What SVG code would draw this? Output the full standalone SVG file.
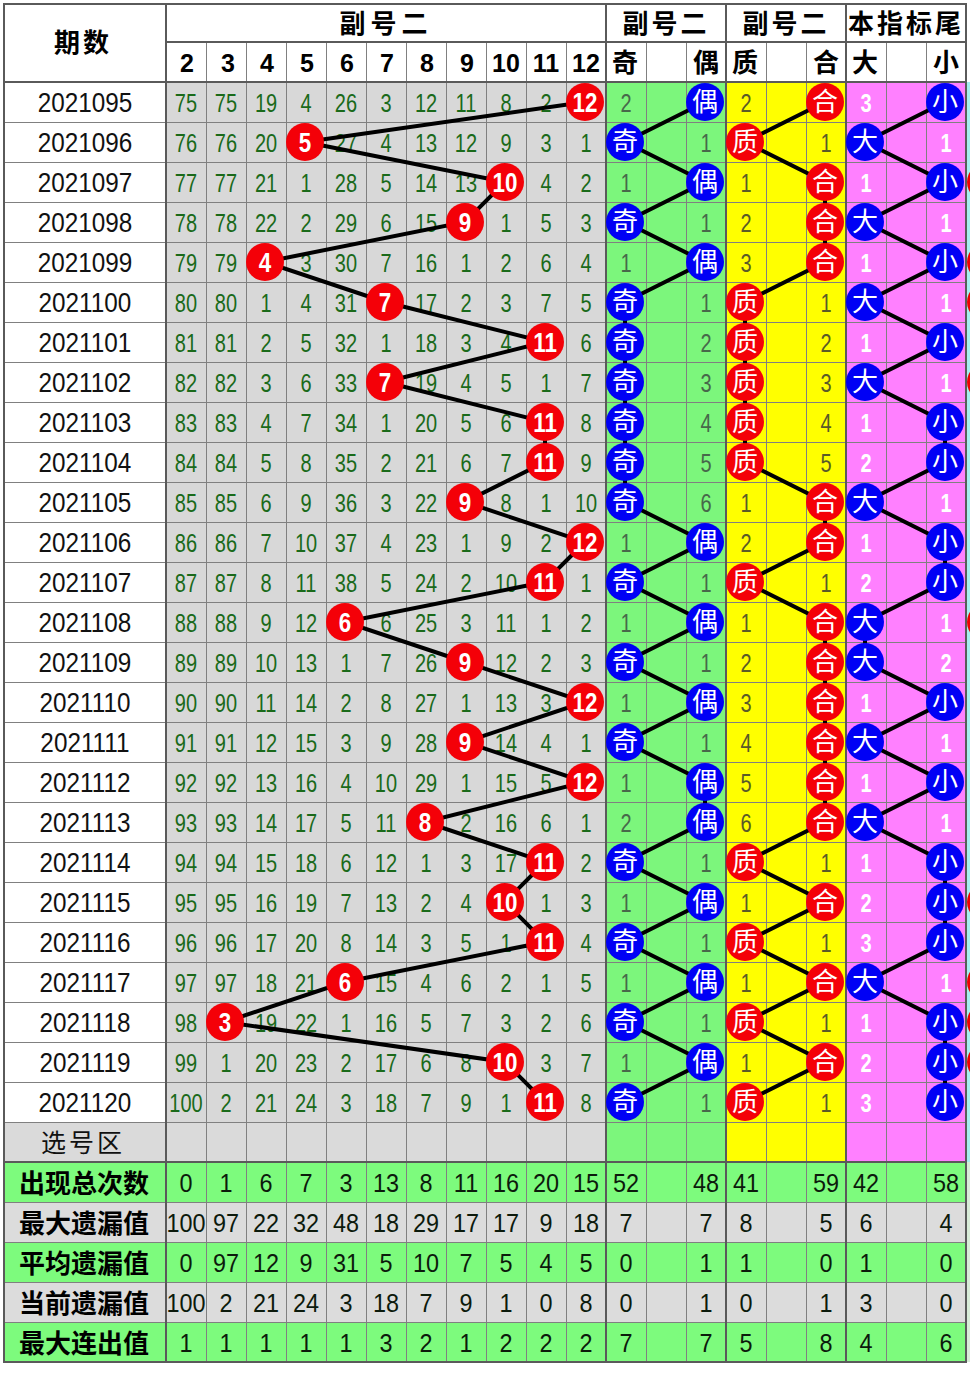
<svg xmlns="http://www.w3.org/2000/svg" width="970" height="1396" viewBox="0 0 970 1396">
<style>
text{text-anchor:middle;font-family:"Liberation Sans",Arial,sans-serif}
.cjk,.cjk text,.node-cjk text{font-family:"Noto Sans CJK SC","Noto Sans CJK JP",sans-serif}
.hd{font-size:26px;font-weight:700;fill:#000}
.hn{font-size:25px;font-weight:700;fill:#000;font-family:"Liberation Sans",sans-serif}
.date{font-size:27px;fill:#111}
.grid text{font-size:25px;fill:#1a6a1a}
.gp text{font-size:25px;fill:#47684a}
.yp text{font-size:25px;fill:#5a5a28}
.pp text{font-size:25px;font-weight:700;fill:#fff}
.stat text{font-size:26px;fill:#0c1a0c}
.lab{font-size:26px;font-weight:700;fill:#000}
.thin{fill:none;stroke:#808080;stroke-width:1}
.major{fill:none;stroke:#5a5a5a;stroke-width:2}
.conn polyline{fill:none;stroke:#000;stroke-width:4}
.r circle{fill:#f40008}
.b circle{fill:#0000f5}
.num text{font-size:28px;font-weight:700;fill:#fff;transform:scale(.8,1)}
.glyph text{font-size:26px;fill:#fff;font-family:"Noto Sans CJK SC",sans-serif}
</style>

<rect width="970" height="1396" fill="#fff"/>
<g id="fills">
<rect x="4" y="1122" width="602" height="40" fill="#dadada"/>
<rect x="166" y="82" width="440" height="1040" fill="#d8d8d8"/>
<rect x="606" y="82" width="120" height="1080" fill="#7cf67c"/>
<rect x="726" y="82" width="120" height="1080" fill="#ffff00"/>
<rect x="846" y="82" width="120" height="1080" fill="#ff80ff"/>
<rect x="967" y="82" width="3" height="1080" fill="#a4f0f0"/>
<rect x="4" y="1162" width="962" height="40" fill="#7dfb7d"/>
<rect x="4" y="1202" width="962" height="40" fill="#dcdcdc"/>
<rect x="4" y="1242" width="962" height="40" fill="#7dfb7d"/>
<rect x="4" y="1282" width="962" height="40" fill="#dcdcdc"/>
<rect x="4" y="1322" width="962" height="40" fill="#7dfb7d"/>
<rect x="967" y="1162" width="3" height="200" fill="#d8ecd8"/>
</g>

<g id="edge" fill="#f00000">
<circle cx="986" cy="182" r="19"/><circle cx="986" cy="262" r="19"/><circle cx="986" cy="302" r="19"/><circle cx="986" cy="382" r="19"/><circle cx="986" cy="622" r="19"/><circle cx="986" cy="902" r="19"/><circle cx="986" cy="982" r="19"/><circle cx="986" cy="1022" r="19"/><circle cx="986" cy="1062" r="19"/>
</g>

<g id="dates" transform="scale(.9 1)" class="date">
<text class="date" x="94.4" y="112">2021095</text><text class="date" x="94.4" y="152">2021096</text><text class="date" x="94.4" y="192">2021097</text><text class="date" x="94.4" y="232">2021098</text><text class="date" x="94.4" y="272">2021099</text><text class="date" x="94.4" y="312">2021100</text><text class="date" x="94.4" y="352">2021101</text><text class="date" x="94.4" y="392">2021102</text><text class="date" x="94.4" y="432">2021103</text><text class="date" x="94.4" y="472">2021104</text><text class="date" x="94.4" y="512">2021105</text><text class="date" x="94.4" y="552">2021106</text><text class="date" x="94.4" y="592">2021107</text><text class="date" x="94.4" y="632">2021108</text><text class="date" x="94.4" y="672">2021109</text><text class="date" x="94.4" y="712">2021110</text><text class="date" x="94.4" y="752">2021111</text><text class="date" x="94.4" y="792">2021112</text><text class="date" x="94.4" y="832">2021113</text><text class="date" x="94.4" y="872">2021114</text><text class="date" x="94.4" y="912">2021115</text><text class="date" x="94.4" y="952">2021116</text><text class="date" x="94.4" y="992">2021117</text><text class="date" x="94.4" y="1032">2021118</text><text class="date" x="94.4" y="1072">2021119</text><text class="date" x="94.4" y="1112">2021120</text>
</g>

<g id="grid-values" class="grid">
<g transform="matrix(.8 0 0 1 0 112)"><text x="232.5">75</text><text x="282.5">75</text><text x="332.5">19</text><text x="382.5">4</text><text x="432.5">26</text><text x="482.5">3</text><text x="532.5">12</text><text x="582.5">11</text><text x="632.5">8</text><text x="682.5">2</text></g>
<g transform="matrix(.8 0 0 1 0 152)"><text x="232.5">76</text><text x="282.5">76</text><text x="332.5">20</text><text x="432.5">27</text><text x="482.5">4</text><text x="532.5">13</text><text x="582.5">12</text><text x="632.5">9</text><text x="682.5">3</text><text x="732.5">1</text></g>
<g transform="matrix(.8 0 0 1 0 192)"><text x="232.5">77</text><text x="282.5">77</text><text x="332.5">21</text><text x="382.5">1</text><text x="432.5">28</text><text x="482.5">5</text><text x="532.5">14</text><text x="582.5">13</text><text x="682.5">4</text><text x="732.5">2</text></g>
<g transform="matrix(.8 0 0 1 0 232)"><text x="232.5">78</text><text x="282.5">78</text><text x="332.5">22</text><text x="382.5">2</text><text x="432.5">29</text><text x="482.5">6</text><text x="532.5">15</text><text x="632.5">1</text><text x="682.5">5</text><text x="732.5">3</text></g>
<g transform="matrix(.8 0 0 1 0 272)"><text x="232.5">79</text><text x="282.5">79</text><text x="382.5">3</text><text x="432.5">30</text><text x="482.5">7</text><text x="532.5">16</text><text x="582.5">1</text><text x="632.5">2</text><text x="682.5">6</text><text x="732.5">4</text></g>
<g transform="matrix(.8 0 0 1 0 312)"><text x="232.5">80</text><text x="282.5">80</text><text x="332.5">1</text><text x="382.5">4</text><text x="432.5">31</text><text x="532.5">17</text><text x="582.5">2</text><text x="632.5">3</text><text x="682.5">7</text><text x="732.5">5</text></g>
<g transform="matrix(.8 0 0 1 0 352)"><text x="232.5">81</text><text x="282.5">81</text><text x="332.5">2</text><text x="382.5">5</text><text x="432.5">32</text><text x="482.5">1</text><text x="532.5">18</text><text x="582.5">3</text><text x="632.5">4</text><text x="732.5">6</text></g>
<g transform="matrix(.8 0 0 1 0 392)"><text x="232.5">82</text><text x="282.5">82</text><text x="332.5">3</text><text x="382.5">6</text><text x="432.5">33</text><text x="532.5">19</text><text x="582.5">4</text><text x="632.5">5</text><text x="682.5">1</text><text x="732.5">7</text></g>
<g transform="matrix(.8 0 0 1 0 432)"><text x="232.5">83</text><text x="282.5">83</text><text x="332.5">4</text><text x="382.5">7</text><text x="432.5">34</text><text x="482.5">1</text><text x="532.5">20</text><text x="582.5">5</text><text x="632.5">6</text><text x="732.5">8</text></g>
<g transform="matrix(.8 0 0 1 0 472)"><text x="232.5">84</text><text x="282.5">84</text><text x="332.5">5</text><text x="382.5">8</text><text x="432.5">35</text><text x="482.5">2</text><text x="532.5">21</text><text x="582.5">6</text><text x="632.5">7</text><text x="732.5">9</text></g>
<g transform="matrix(.8 0 0 1 0 512)"><text x="232.5">85</text><text x="282.5">85</text><text x="332.5">6</text><text x="382.5">9</text><text x="432.5">36</text><text x="482.5">3</text><text x="532.5">22</text><text x="632.5">8</text><text x="682.5">1</text><text x="732.5">10</text></g>
<g transform="matrix(.8 0 0 1 0 552)"><text x="232.5">86</text><text x="282.5">86</text><text x="332.5">7</text><text x="382.5">10</text><text x="432.5">37</text><text x="482.5">4</text><text x="532.5">23</text><text x="582.5">1</text><text x="632.5">9</text><text x="682.5">2</text></g>
<g transform="matrix(.8 0 0 1 0 592)"><text x="232.5">87</text><text x="282.5">87</text><text x="332.5">8</text><text x="382.5">11</text><text x="432.5">38</text><text x="482.5">5</text><text x="532.5">24</text><text x="582.5">2</text><text x="632.5">10</text><text x="732.5">1</text></g>
<g transform="matrix(.8 0 0 1 0 632)"><text x="232.5">88</text><text x="282.5">88</text><text x="332.5">9</text><text x="382.5">12</text><text x="482.5">6</text><text x="532.5">25</text><text x="582.5">3</text><text x="632.5">11</text><text x="682.5">1</text><text x="732.5">2</text></g>
<g transform="matrix(.8 0 0 1 0 672)"><text x="232.5">89</text><text x="282.5">89</text><text x="332.5">10</text><text x="382.5">13</text><text x="432.5">1</text><text x="482.5">7</text><text x="532.5">26</text><text x="632.5">12</text><text x="682.5">2</text><text x="732.5">3</text></g>
<g transform="matrix(.8 0 0 1 0 712)"><text x="232.5">90</text><text x="282.5">90</text><text x="332.5">11</text><text x="382.5">14</text><text x="432.5">2</text><text x="482.5">8</text><text x="532.5">27</text><text x="582.5">1</text><text x="632.5">13</text><text x="682.5">3</text></g>
<g transform="matrix(.8 0 0 1 0 752)"><text x="232.5">91</text><text x="282.5">91</text><text x="332.5">12</text><text x="382.5">15</text><text x="432.5">3</text><text x="482.5">9</text><text x="532.5">28</text><text x="632.5">14</text><text x="682.5">4</text><text x="732.5">1</text></g>
<g transform="matrix(.8 0 0 1 0 792)"><text x="232.5">92</text><text x="282.5">92</text><text x="332.5">13</text><text x="382.5">16</text><text x="432.5">4</text><text x="482.5">10</text><text x="532.5">29</text><text x="582.5">1</text><text x="632.5">15</text><text x="682.5">5</text></g>
<g transform="matrix(.8 0 0 1 0 832)"><text x="232.5">93</text><text x="282.5">93</text><text x="332.5">14</text><text x="382.5">17</text><text x="432.5">5</text><text x="482.5">11</text><text x="582.5">2</text><text x="632.5">16</text><text x="682.5">6</text><text x="732.5">1</text></g>
<g transform="matrix(.8 0 0 1 0 872)"><text x="232.5">94</text><text x="282.5">94</text><text x="332.5">15</text><text x="382.5">18</text><text x="432.5">6</text><text x="482.5">12</text><text x="532.5">1</text><text x="582.5">3</text><text x="632.5">17</text><text x="732.5">2</text></g>
<g transform="matrix(.8 0 0 1 0 912)"><text x="232.5">95</text><text x="282.5">95</text><text x="332.5">16</text><text x="382.5">19</text><text x="432.5">7</text><text x="482.5">13</text><text x="532.5">2</text><text x="582.5">4</text><text x="682.5">1</text><text x="732.5">3</text></g>
<g transform="matrix(.8 0 0 1 0 952)"><text x="232.5">96</text><text x="282.5">96</text><text x="332.5">17</text><text x="382.5">20</text><text x="432.5">8</text><text x="482.5">14</text><text x="532.5">3</text><text x="582.5">5</text><text x="632.5">1</text><text x="732.5">4</text></g>
<g transform="matrix(.8 0 0 1 0 992)"><text x="232.5">97</text><text x="282.5">97</text><text x="332.5">18</text><text x="382.5">21</text><text x="482.5">15</text><text x="532.5">4</text><text x="582.5">6</text><text x="632.5">2</text><text x="682.5">1</text><text x="732.5">5</text></g>
<g transform="matrix(.8 0 0 1 0 1032)"><text x="232.5">98</text><text x="332.5">19</text><text x="382.5">22</text><text x="432.5">1</text><text x="482.5">16</text><text x="532.5">5</text><text x="582.5">7</text><text x="632.5">3</text><text x="682.5">2</text><text x="732.5">6</text></g>
<g transform="matrix(.8 0 0 1 0 1072)"><text x="232.5">99</text><text x="282.5">1</text><text x="332.5">20</text><text x="382.5">23</text><text x="432.5">2</text><text x="482.5">17</text><text x="532.5">6</text><text x="582.5">8</text><text x="682.5">3</text><text x="732.5">7</text></g>
<g transform="matrix(.8 0 0 1 0 1112)"><text x="232.5">100</text><text x="282.5">2</text><text x="332.5">21</text><text x="382.5">24</text><text x="432.5">3</text><text x="482.5">18</text><text x="532.5">7</text><text x="582.5">9</text><text x="632.5">1</text><text x="732.5">8</text></g>
</g>

<g id="odd-even-values" class="gp" transform="scale(.8 1)">
<text x="782.5" y="112">2</text><text x="882.5" y="152">1</text><text x="782.5" y="192">1</text><text x="882.5" y="232">1</text><text x="782.5" y="272">1</text><text x="882.5" y="312">1</text><text x="882.5" y="352">2</text><text x="882.5" y="392">3</text><text x="882.5" y="432">4</text><text x="882.5" y="472">5</text><text x="882.5" y="512">6</text><text x="782.5" y="552">1</text><text x="882.5" y="592">1</text><text x="782.5" y="632">1</text><text x="882.5" y="672">1</text><text x="782.5" y="712">1</text><text x="882.5" y="752">1</text><text x="782.5" y="792">1</text><text x="782.5" y="832">2</text><text x="882.5" y="872">1</text><text x="782.5" y="912">1</text><text x="882.5" y="952">1</text><text x="782.5" y="992">1</text><text x="882.5" y="1032">1</text><text x="782.5" y="1072">1</text><text x="882.5" y="1112">1</text>
</g>
<g id="prime-values" class="yp" transform="scale(.8 1)">
<text x="932.5" y="112">2</text><text x="1032.5" y="152">1</text><text x="932.5" y="192">1</text><text x="932.5" y="232">2</text><text x="932.5" y="272">3</text><text x="1032.5" y="312">1</text><text x="1032.5" y="352">2</text><text x="1032.5" y="392">3</text><text x="1032.5" y="432">4</text><text x="1032.5" y="472">5</text><text x="932.5" y="512">1</text><text x="932.5" y="552">2</text><text x="1032.5" y="592">1</text><text x="932.5" y="632">1</text><text x="932.5" y="672">2</text><text x="932.5" y="712">3</text><text x="932.5" y="752">4</text><text x="932.5" y="792">5</text><text x="932.5" y="832">6</text><text x="1032.5" y="872">1</text><text x="932.5" y="912">1</text><text x="1032.5" y="952">1</text><text x="932.5" y="992">1</text><text x="1032.5" y="1032">1</text><text x="932.5" y="1072">1</text><text x="1032.5" y="1112">1</text>
</g>
<g id="size-values" class="pp" transform="scale(.8 1)">
<text x="1082.5" y="112">3</text><text x="1182.5" y="152">1</text><text x="1082.5" y="192">1</text><text x="1182.5" y="232">1</text><text x="1082.5" y="272">1</text><text x="1182.5" y="312">1</text><text x="1082.5" y="352">1</text><text x="1182.5" y="392">1</text><text x="1082.5" y="432">1</text><text x="1082.5" y="472">2</text><text x="1182.5" y="512">1</text><text x="1082.5" y="552">1</text><text x="1082.5" y="592">2</text><text x="1182.5" y="632">1</text><text x="1182.5" y="672">2</text><text x="1082.5" y="712">1</text><text x="1182.5" y="752">1</text><text x="1082.5" y="792">1</text><text x="1182.5" y="832">1</text><text x="1082.5" y="872">1</text><text x="1082.5" y="912">2</text><text x="1082.5" y="952">3</text><text x="1182.5" y="992">1</text><text x="1082.5" y="1032">1</text><text x="1082.5" y="1072">2</text><text x="1082.5" y="1112">3</text>
</g>

<g id="stats" class="stat">
<g transform="matrix(.9 0 0 1 0 1192)"><text x="206.67">0</text><text x="251.11">1</text><text x="295.56">6</text><text x="340">7</text><text x="384.44">3</text><text x="428.89">13</text><text x="473.33">8</text><text x="517.78">11</text><text x="562.22">16</text><text x="606.67">20</text><text x="651.11">15</text><text x="695.56">52</text><text x="784.44">48</text><text x="828.89">41</text><text x="917.78">59</text><text x="962.22">42</text><text x="1051.11">58</text></g>
<g transform="matrix(.9 0 0 1 0 1232)"><text x="206.67">100</text><text x="251.11">97</text><text x="295.56">22</text><text x="340">32</text><text x="384.44">48</text><text x="428.89">18</text><text x="473.33">29</text><text x="517.78">17</text><text x="562.22">17</text><text x="606.67">9</text><text x="651.11">18</text><text x="695.56">7</text><text x="784.44">7</text><text x="828.89">8</text><text x="917.78">5</text><text x="962.22">6</text><text x="1051.11">4</text></g>
<g transform="matrix(.9 0 0 1 0 1272)"><text x="206.67">0</text><text x="251.11">97</text><text x="295.56">12</text><text x="340">9</text><text x="384.44">31</text><text x="428.89">5</text><text x="473.33">10</text><text x="517.78">7</text><text x="562.22">5</text><text x="606.67">4</text><text x="651.11">5</text><text x="695.56">0</text><text x="784.44">1</text><text x="828.89">1</text><text x="917.78">0</text><text x="962.22">1</text><text x="1051.11">0</text></g>
<g transform="matrix(.9 0 0 1 0 1312)"><text x="206.67">100</text><text x="251.11">2</text><text x="295.56">21</text><text x="340">24</text><text x="384.44">3</text><text x="428.89">18</text><text x="473.33">7</text><text x="517.78">9</text><text x="562.22">1</text><text x="606.67">0</text><text x="651.11">8</text><text x="695.56">0</text><text x="784.44">1</text><text x="828.89">0</text><text x="917.78">1</text><text x="962.22">3</text><text x="1051.11">0</text></g>
<g transform="matrix(.9 0 0 1 0 1352)"><text x="206.67">1</text><text x="251.11">1</text><text x="295.56">1</text><text x="340">1</text><text x="384.44">1</text><text x="428.89">3</text><text x="473.33">2</text><text x="517.78">1</text><text x="562.22">2</text><text x="606.67">2</text><text x="651.11">2</text><text x="695.56">7</text><text x="784.44">7</text><text x="828.89">5</text><text x="917.78">8</text><text x="962.22">4</text><text x="1051.11">6</text></g>
</g>

<path id="thin-lines" class="thin" d="M4 122.5H966M4 162.5H966M4 202.5H966M4 242.5H966M4 282.5H966M4 322.5H966M4 362.5H966M4 402.5H966M4 442.5H966M4 482.5H966M4 522.5H966M4 562.5H966M4 602.5H966M4 642.5H966M4 682.5H966M4 722.5H966M4 762.5H966M4 802.5H966M4 842.5H966M4 882.5H966M4 922.5H966M4 962.5H966M4 1002.5H966M4 1042.5H966M4 1082.5H966M4 1122.5H966M4 1202.5H966M4 1242.5H966M4 1282.5H966M4 1322.5H966M206.5 42V1362M246.5 42V1362M286.5 42V1362M326.5 42V1362M366.5 42V1362M406.5 42V1362M446.5 42V1362M486.5 42V1362M526.5 42V1362M566.5 42V1362M646.5 42V1362M686.5 42V1362M766.5 42V1362M806.5 42V1362M886.5 42V1362M926.5 42V1362"/>
<path id="major-lines" class="major" d="M4 4H966V1362H4ZM166 4V1362M606 4V1362M726 4V1362M846 4V1362M166 42H966M4 82H966M4 1162H966"/>

<g id="headers">
<text class="hd cjk" x="83" y="52" letter-spacing="3">期数</text>
<text class="hd cjk" x="386" y="33" letter-spacing="5">副号二</text>
<text class="hd cjk" x="666" y="33" letter-spacing="3">副号二</text>
<text class="hd cjk" x="786" y="33" letter-spacing="3">副号二</text>
<text class="hd cjk" x="906" y="33" letter-spacing="3">本指标尾</text>
<text class="hn" x="187" y="72">2</text><text class="hn" x="228" y="72">3</text><text class="hn" x="267" y="72">4</text><text class="hn" x="307" y="72">5</text><text class="hn" x="347" y="72">6</text><text class="hn" x="387" y="72">7</text><text class="hn" x="427" y="72">8</text><text class="hn" x="467" y="72">9</text><text class="hn" x="506" y="72">10</text><text class="hn" x="546" y="72">11</text><text class="hn" x="586" y="72">12</text>
<text class="hd cjk" x="625" y="72">奇</text><text class="hd cjk" x="706" y="72">偶</text><text class="hd cjk" x="745" y="72">质</text><text class="hd cjk" x="826" y="72">合</text><text class="hd cjk" x="865" y="72">大</text><text class="hd cjk" x="946" y="72">小</text>
<text class="cjk" x="83" y="1152" font-size="25" letter-spacing="3" fill="#111">选号区</text>
<text class="lab cjk" x="84" y="1193">出现总次数</text>
<text class="lab cjk" x="84" y="1233">最大遗漏值</text>
<text class="lab cjk" x="84" y="1273">平均遗漏值</text>
<text class="lab cjk" x="84" y="1313">当前遗漏值</text>
<text class="lab cjk" x="84" y="1353">最大连出值</text>
</g>

<g id="connectors" class="conn">
<polyline points="585,102 305,142 505,182 465,222 265,262 385,302 545,342 385,382 545,422 545,462 465,502 585,542 545,582 345,622 465,662 585,702 465,742 585,782 425,822 545,862 505,902 545,942 345,982 225,1022 505,1062 545,1102"/>
<polyline points="705,102 625,142 705,182 625,222 705,262 625,302 625,342 625,382 625,422 625,462 625,502 705,542 625,582 705,622 625,662 705,702 625,742 705,782 705,822 625,862 705,902 625,942 705,982 625,1022 705,1062 625,1102"/>
<polyline points="825,102 745,142 825,182 825,222 825,262 745,302 745,342 745,382 745,422 745,462 825,502 825,542 745,582 825,622 825,662 825,702 825,742 825,782 825,822 745,862 825,902 745,942 825,982 745,1022 825,1062 745,1102"/>
<polyline points="945,102 865,142 945,182 865,222 945,262 865,302 945,342 865,382 945,422 945,462 865,502 945,542 945,582 865,622 865,662 945,702 865,742 945,782 865,822 945,862 945,902 945,942 865,982 945,1022 945,1062 945,1102"/>
</g>

<g id="number-nodes" class="r num">
<g id="n2021095" transform="translate(585 102)"><circle r="19"/><text y="10">12</text></g>
<g id="n2021096" transform="translate(305 142)"><circle r="19"/><text y="10">5</text></g>
<g id="n2021097" transform="translate(505 182)"><circle r="19"/><text y="10">10</text></g>
<g id="n2021098" transform="translate(465 222)"><circle r="19"/><text y="10">9</text></g>
<g id="n2021099" transform="translate(265 262)"><circle r="19"/><text y="10">4</text></g>
<g id="n2021100" transform="translate(385 302)"><circle r="19"/><text y="10">7</text></g>
<g id="n2021101" transform="translate(545 342)"><circle r="19"/><text y="10">11</text></g>
<g id="n2021102" transform="translate(385 382)"><circle r="19"/><text y="10">7</text></g>
<g id="n2021103" transform="translate(545 422)"><circle r="19"/><text y="10">11</text></g>
<g id="n2021104" transform="translate(545 462)"><circle r="19"/><text y="10">11</text></g>
<g id="n2021105" transform="translate(465 502)"><circle r="19"/><text y="10">9</text></g>
<g id="n2021106" transform="translate(585 542)"><circle r="19"/><text y="10">12</text></g>
<g id="n2021107" transform="translate(545 582)"><circle r="19"/><text y="10">11</text></g>
<g id="n2021108" transform="translate(345 622)"><circle r="19"/><text y="10">6</text></g>
<g id="n2021109" transform="translate(465 662)"><circle r="19"/><text y="10">9</text></g>
<g id="n2021110" transform="translate(585 702)"><circle r="19"/><text y="10">12</text></g>
<g id="n2021111" transform="translate(465 742)"><circle r="19"/><text y="10">9</text></g>
<g id="n2021112" transform="translate(585 782)"><circle r="19"/><text y="10">12</text></g>
<g id="n2021113" transform="translate(425 822)"><circle r="19"/><text y="10">8</text></g>
<g id="n2021114" transform="translate(545 862)"><circle r="19"/><text y="10">11</text></g>
<g id="n2021115" transform="translate(505 902)"><circle r="19"/><text y="10">10</text></g>
<g id="n2021116" transform="translate(545 942)"><circle r="19"/><text y="10">11</text></g>
<g id="n2021117" transform="translate(345 982)"><circle r="19"/><text y="10">6</text></g>
<g id="n2021118" transform="translate(225 1022)"><circle r="19"/><text y="10">3</text></g>
<g id="n2021119" transform="translate(505 1062)"><circle r="19"/><text y="10">10</text></g>
<g id="n2021120" transform="translate(545 1102)"><circle r="19"/><text y="10">11</text></g>
</g>

<g id="odd-even-nodes" class="b glyph">
<g id="oe1095" transform="translate(705 102)"><circle r="19"/><text y="9">偶</text></g>
<g id="oe1096" transform="translate(625 142)"><circle r="19"/><text y="9">奇</text></g>
<g id="oe1097" transform="translate(705 182)"><circle r="19"/><text y="9">偶</text></g>
<g id="oe1098" transform="translate(625 222)"><circle r="19"/><text y="9">奇</text></g>
<g id="oe1099" transform="translate(705 262)"><circle r="19"/><text y="9">偶</text></g>
<g id="oe1100" transform="translate(625 302)"><circle r="19"/><text y="9">奇</text></g>
<g id="oe1101" transform="translate(625 342)"><circle r="19"/><text y="9">奇</text></g>
<g id="oe1102" transform="translate(625 382)"><circle r="19"/><text y="9">奇</text></g>
<g id="oe1103" transform="translate(625 422)"><circle r="19"/><text y="9">奇</text></g>
<g id="oe1104" transform="translate(625 462)"><circle r="19"/><text y="9">奇</text></g>
<g id="oe1105" transform="translate(625 502)"><circle r="19"/><text y="9">奇</text></g>
<g id="oe1106" transform="translate(705 542)"><circle r="19"/><text y="9">偶</text></g>
<g id="oe1107" transform="translate(625 582)"><circle r="19"/><text y="9">奇</text></g>
<g id="oe1108" transform="translate(705 622)"><circle r="19"/><text y="9">偶</text></g>
<g id="oe1109" transform="translate(625 662)"><circle r="19"/><text y="9">奇</text></g>
<g id="oe1110" transform="translate(705 702)"><circle r="19"/><text y="9">偶</text></g>
<g id="oe1111" transform="translate(625 742)"><circle r="19"/><text y="9">奇</text></g>
<g id="oe1112" transform="translate(705 782)"><circle r="19"/><text y="9">偶</text></g>
<g id="oe1113" transform="translate(705 822)"><circle r="19"/><text y="9">偶</text></g>
<g id="oe1114" transform="translate(625 862)"><circle r="19"/><text y="9">奇</text></g>
<g id="oe1115" transform="translate(705 902)"><circle r="19"/><text y="9">偶</text></g>
<g id="oe1116" transform="translate(625 942)"><circle r="19"/><text y="9">奇</text></g>
<g id="oe1117" transform="translate(705 982)"><circle r="19"/><text y="9">偶</text></g>
<g id="oe1118" transform="translate(625 1022)"><circle r="19"/><text y="9">奇</text></g>
<g id="oe1119" transform="translate(705 1062)"><circle r="19"/><text y="9">偶</text></g>
<g id="oe1120" transform="translate(625 1102)"><circle r="19"/><text y="9">奇</text></g>
</g>

<g id="prime-nodes" class="r glyph">
<g id="pc1095" transform="translate(825 102)"><circle r="19"/><text y="9">合</text></g>
<g id="pc1096" transform="translate(745 142)"><circle r="19"/><text y="9">质</text></g>
<g id="pc1097" transform="translate(825 182)"><circle r="19"/><text y="9">合</text></g>
<g id="pc1098" transform="translate(825 222)"><circle r="19"/><text y="9">合</text></g>
<g id="pc1099" transform="translate(825 262)"><circle r="19"/><text y="9">合</text></g>
<g id="pc1100" transform="translate(745 302)"><circle r="19"/><text y="9">质</text></g>
<g id="pc1101" transform="translate(745 342)"><circle r="19"/><text y="9">质</text></g>
<g id="pc1102" transform="translate(745 382)"><circle r="19"/><text y="9">质</text></g>
<g id="pc1103" transform="translate(745 422)"><circle r="19"/><text y="9">质</text></g>
<g id="pc1104" transform="translate(745 462)"><circle r="19"/><text y="9">质</text></g>
<g id="pc1105" transform="translate(825 502)"><circle r="19"/><text y="9">合</text></g>
<g id="pc1106" transform="translate(825 542)"><circle r="19"/><text y="9">合</text></g>
<g id="pc1107" transform="translate(745 582)"><circle r="19"/><text y="9">质</text></g>
<g id="pc1108" transform="translate(825 622)"><circle r="19"/><text y="9">合</text></g>
<g id="pc1109" transform="translate(825 662)"><circle r="19"/><text y="9">合</text></g>
<g id="pc1110" transform="translate(825 702)"><circle r="19"/><text y="9">合</text></g>
<g id="pc1111" transform="translate(825 742)"><circle r="19"/><text y="9">合</text></g>
<g id="pc1112" transform="translate(825 782)"><circle r="19"/><text y="9">合</text></g>
<g id="pc1113" transform="translate(825 822)"><circle r="19"/><text y="9">合</text></g>
<g id="pc1114" transform="translate(745 862)"><circle r="19"/><text y="9">质</text></g>
<g id="pc1115" transform="translate(825 902)"><circle r="19"/><text y="9">合</text></g>
<g id="pc1116" transform="translate(745 942)"><circle r="19"/><text y="9">质</text></g>
<g id="pc1117" transform="translate(825 982)"><circle r="19"/><text y="9">合</text></g>
<g id="pc1118" transform="translate(745 1022)"><circle r="19"/><text y="9">质</text></g>
<g id="pc1119" transform="translate(825 1062)"><circle r="19"/><text y="9">合</text></g>
<g id="pc1120" transform="translate(745 1102)"><circle r="19"/><text y="9">质</text></g>
</g>

<g id="size-nodes" class="b glyph">
<g id="bs1095" transform="translate(945 102)"><circle r="19"/><text y="9">小</text></g>
<g id="bs1096" transform="translate(865 142)"><circle r="19"/><text y="9">大</text></g>
<g id="bs1097" transform="translate(945 182)"><circle r="19"/><text y="9">小</text></g>
<g id="bs1098" transform="translate(865 222)"><circle r="19"/><text y="9">大</text></g>
<g id="bs1099" transform="translate(945 262)"><circle r="19"/><text y="9">小</text></g>
<g id="bs1100" transform="translate(865 302)"><circle r="19"/><text y="9">大</text></g>
<g id="bs1101" transform="translate(945 342)"><circle r="19"/><text y="9">小</text></g>
<g id="bs1102" transform="translate(865 382)"><circle r="19"/><text y="9">大</text></g>
<g id="bs1103" transform="translate(945 422)"><circle r="19"/><text y="9">小</text></g>
<g id="bs1104" transform="translate(945 462)"><circle r="19"/><text y="9">小</text></g>
<g id="bs1105" transform="translate(865 502)"><circle r="19"/><text y="9">大</text></g>
<g id="bs1106" transform="translate(945 542)"><circle r="19"/><text y="9">小</text></g>
<g id="bs1107" transform="translate(945 582)"><circle r="19"/><text y="9">小</text></g>
<g id="bs1108" transform="translate(865 622)"><circle r="19"/><text y="9">大</text></g>
<g id="bs1109" transform="translate(865 662)"><circle r="19"/><text y="9">大</text></g>
<g id="bs1110" transform="translate(945 702)"><circle r="19"/><text y="9">小</text></g>
<g id="bs1111" transform="translate(865 742)"><circle r="19"/><text y="9">大</text></g>
<g id="bs1112" transform="translate(945 782)"><circle r="19"/><text y="9">小</text></g>
<g id="bs1113" transform="translate(865 822)"><circle r="19"/><text y="9">大</text></g>
<g id="bs1114" transform="translate(945 862)"><circle r="19"/><text y="9">小</text></g>
<g id="bs1115" transform="translate(945 902)"><circle r="19"/><text y="9">小</text></g>
<g id="bs1116" transform="translate(945 942)"><circle r="19"/><text y="9">小</text></g>
<g id="bs1117" transform="translate(865 982)"><circle r="19"/><text y="9">大</text></g>
<g id="bs1118" transform="translate(945 1022)"><circle r="19"/><text y="9">小</text></g>
<g id="bs1119" transform="translate(945 1062)"><circle r="19"/><text y="9">小</text></g>
<g id="bs1120" transform="translate(945 1102)"><circle r="19"/><text y="9">小</text></g>
</g>
</svg>
